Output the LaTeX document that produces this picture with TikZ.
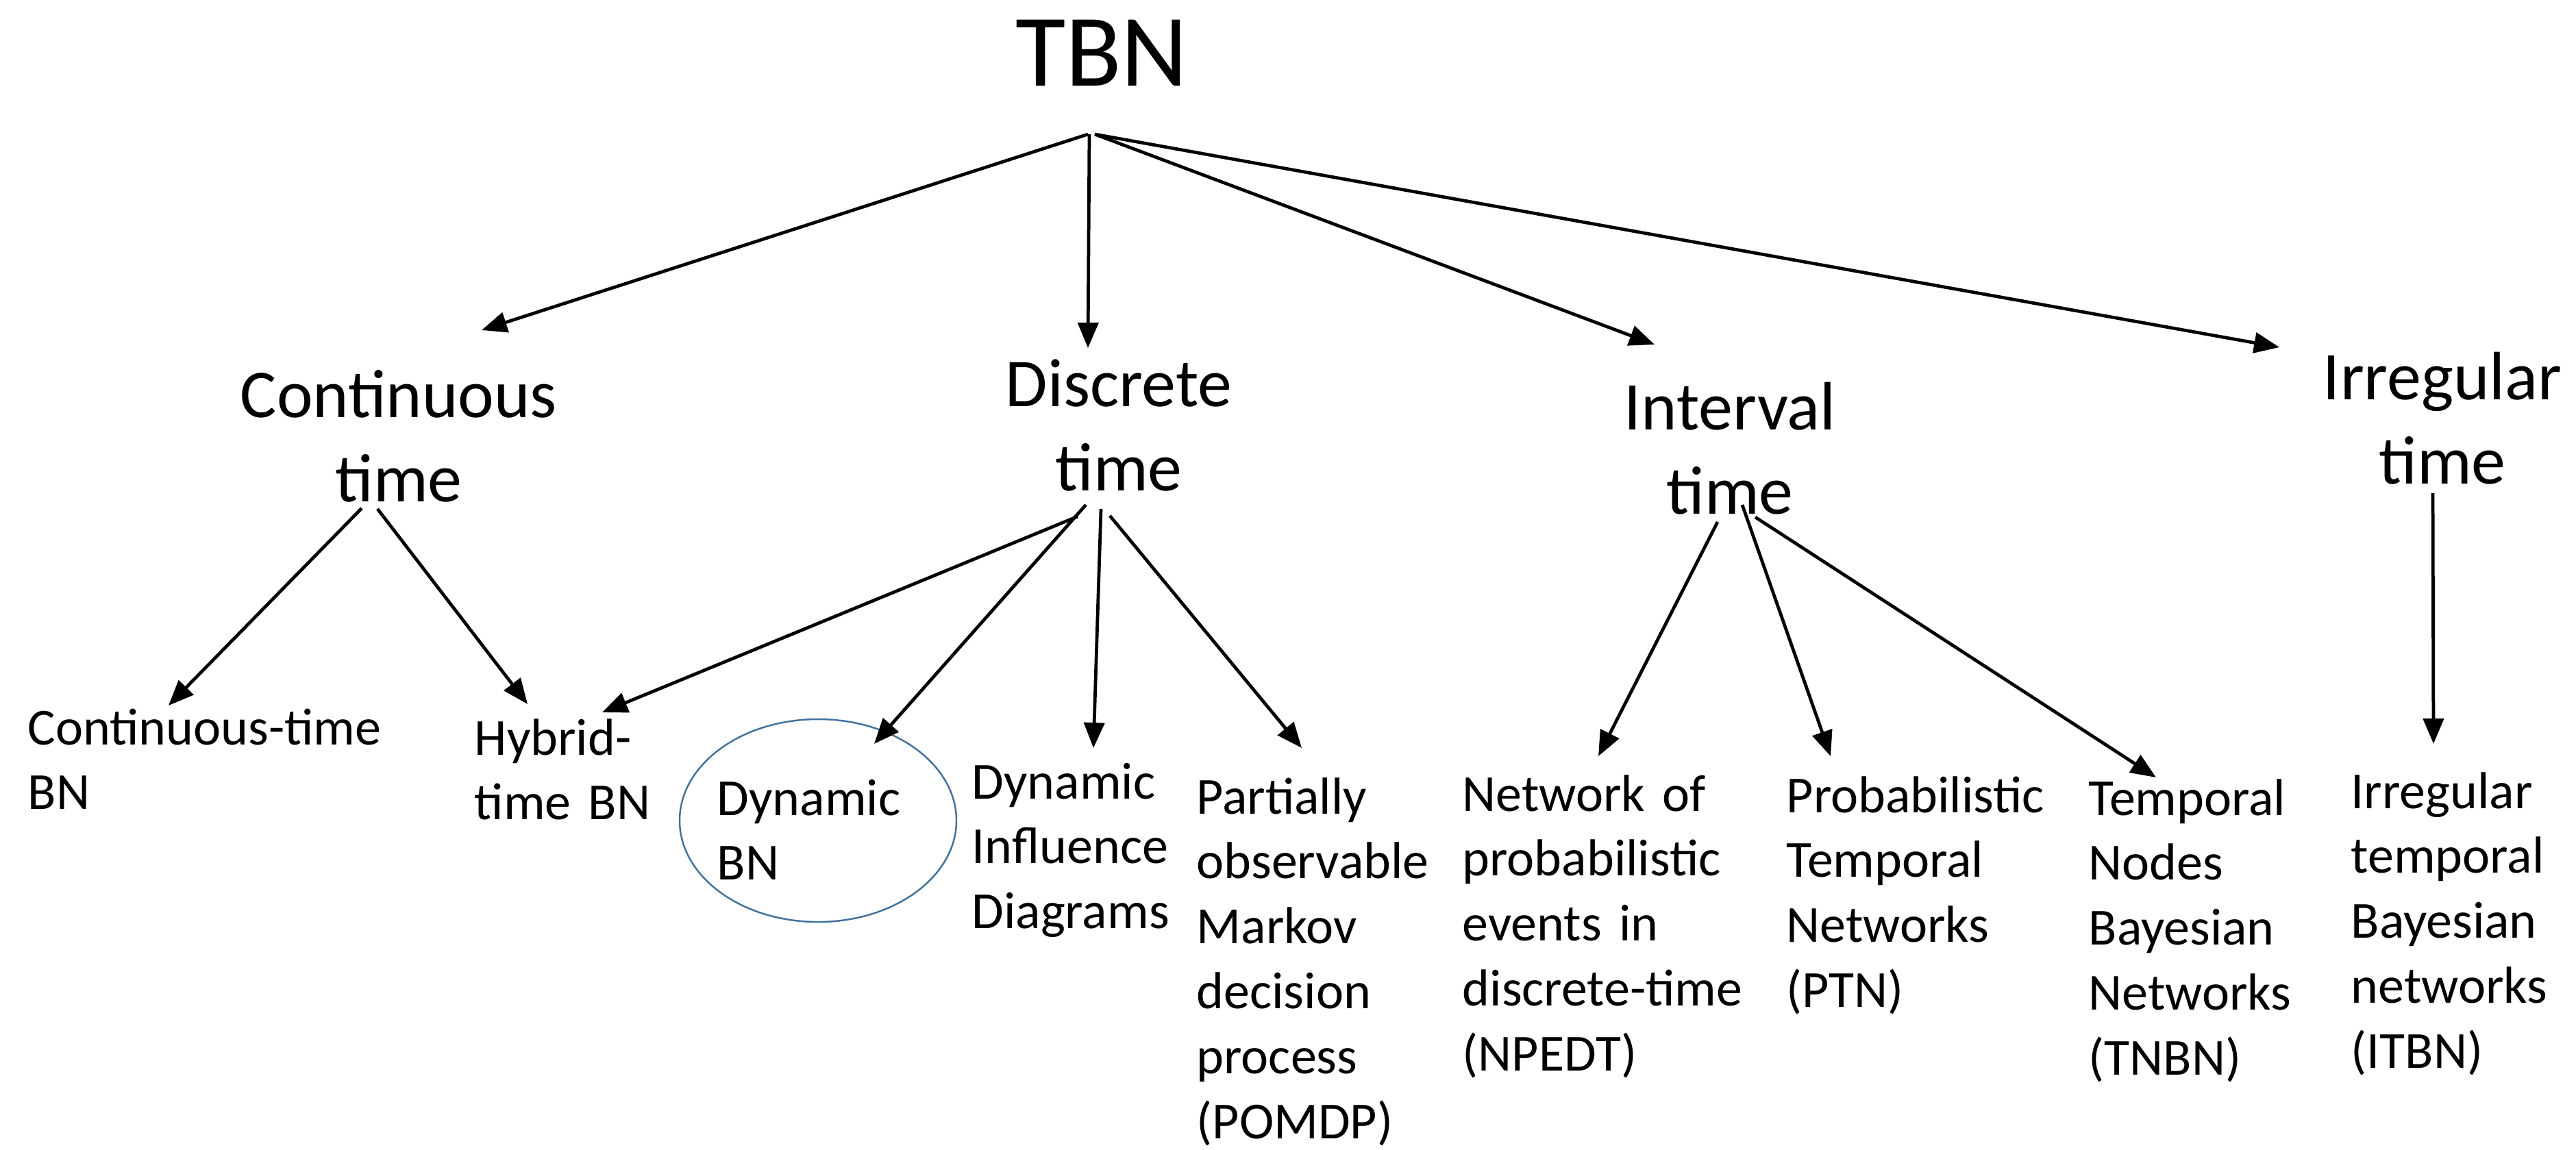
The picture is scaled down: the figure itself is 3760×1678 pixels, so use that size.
\documentclass[tikz,border=0pt]{standalone}
\usepackage{fontspec}
\setmainfont{Carlito}
\usetikzlibrary{arrows.meta}
\definecolor{ovalblue}{HTML}{41719C}
\begin{document}
\begin{tikzpicture}[x=0.01cm, y=-0.01cm,
  arr/.style={line width=1.35pt, -{Triangle[length=10.5pt, width=8.5pt]}},
  rootlbl/.style={inner sep=0pt, anchor=base, font=\fontsize{42.7pt}{50pt}\selectfont},
  kindlbl/.style={inner sep=0pt, anchor=base, align=center, text width=5cm,
    font=\fontsize{28.4pt}{35pt}\selectfont},
  leaflbl/.style={inner sep=0pt, anchor=base west, align=left, text width=7cm,
    font=\fontsize{21.6pt}{27pt}\selectfont}]
  \useasboundingbox (0,0) rectangle (3760,1678);

  % root
  \node[rootlbl] (tbn) at (1608,125) {TBN};

  % kinds of time
  \node[kindlbl] (cont) at (582,609) {Continuous\\time};
  \node[kindlbl] (disc) at (1633,593) {Discrete\\time};
  \node[kindlbl] (intv) at (2525,627) {Interval\\time};
  \node[kindlbl] (irreg) at (3565,583) {Irregular\\time};

  % models
  \node[leaflbl] (ctbn) at (40,1087) {Continuous-time\\BN};
  \node[leaflbl] (hybrid) at (692,1102) {Hybrid-\\time BN};
  \node[leaflbl] (dbn) at (1046,1190) {Dynamic\\BN};
  \node[leaflbl] (did) at (1418,1166) {Dynamic\\Influence\\Diagrams};
  \node[leaflbl] (pomdp) at (1746,1188) {Partially\\observable\\Markov\\decision\\process\\(POMDP)};
  \node[leaflbl] (npedt) at (2134,1184) {Network of\\probabilistic\\events in\\discrete-time\\(NPEDT)};
  \node[leaflbl] (ptn) at (2607,1186) {Probabilistic\\Temporal\\Networks\\(PTN)};
  \node[leaflbl] (tnbn) at (3048,1190) {Temporal\\Nodes\\Bayesian\\Networks\\(TNBN)};
  \node[leaflbl] (itbn) at (3431,1180) {Irregular\\temporal\\Bayesian\\networks\\(ITBN)};

  % oval around Dynamic BN
  \draw[ovalblue, line width=0.7pt] (1194,1198) ellipse [x radius=202, y radius=148];

  % connector ends
  \coordinate (tbn-l) at (1588,196);
  \coordinate (tbn-m) at (1590,196);
  \coordinate (tbn-r) at (1598,196);
  \coordinate (cont-in) at (703,482);
  \coordinate (disc-in) at (1588,508);
  \coordinate (intv-in) at (2415,503);
  \coordinate (irreg-in) at (3327,507);

  \coordinate (cont-l) at (528,742);
  \coordinate (cont-r) at (551,743);
  \coordinate (disc-a) at (1573,754);
  \coordinate (disc-b) at (1585,737);
  \coordinate (disc-c) at (1607,743);
  \coordinate (disc-d) at (1620,753);
  \coordinate (intv-a) at (2507,762);
  \coordinate (intv-b) at (2543,737);
  \coordinate (intv-c) at (2562,755);
  \coordinate (irreg-out) at (3551,720);

  \coordinate (ctbn-in) at (246,1030);
  \coordinate (hybrid-in1) at (770,1028);
  \coordinate (hybrid-in2) at (879,1040);
  \coordinate (dbn-in) at (1276,1086);
  \coordinate (did-in) at (1596,1092);
  \coordinate (pomdp-in) at (1900,1092);
  \coordinate (npedt-in) at (2333,1104);
  \coordinate (ptn-in) at (2672,1104);
  \coordinate (tnbn-in) at (3147,1135);
  \coordinate (itbn-in) at (3552,1086);

  % root to kinds
  \draw[arr] (tbn-l) -- (cont-in);
  \draw[arr] (tbn-m) -- (disc-in);
  \draw[arr] (tbn-r) -- (intv-in);
  \draw[arr] (tbn-r) -- (irreg-in);

  % kinds to models
  \draw[arr] (cont-l) -- (ctbn-in);
  \draw[arr] (cont-r) -- (hybrid-in1);
  \draw[arr] (disc-a) -- (hybrid-in2);
  \draw[arr] (disc-b) -- (dbn-in);
  \draw[arr] (disc-c) -- (did-in);
  \draw[arr] (disc-d) -- (pomdp-in);
  \draw[arr] (intv-a) -- (npedt-in);
  \draw[arr] (intv-b) -- (ptn-in);
  \draw[arr] (intv-c) -- (tnbn-in);
  \draw[arr] (irreg-out) -- (itbn-in);
\end{tikzpicture}
\end{document}
